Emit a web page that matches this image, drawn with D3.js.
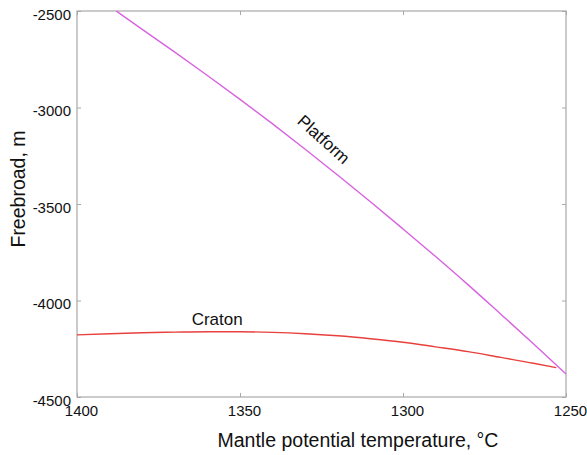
<!DOCTYPE html>
<html>
<head>
<meta charset="utf-8">
<script src="https://cdn.jsdelivr.net/npm/d3@7"></script>
<style>
  body { margin: 0; background: #fff; }
  svg { font-family: "Liberation Sans", Arial, Helvetica, sans-serif; }
</style>
</head>
<body>
<div id="chart"></div>
<script>
// Axis ticks
const tempTicks = [1400, 1350, 1300, 1250];
const freeboardTicks = [-2500, -3000, -3500, -4000, -4500];

// Platform curve
const platformTemp = [1388, 1380, 1370, 1360, 1350, 1340, 1330, 1320, 1310, 1300, 1290, 1280, 1270, 1260, 1250];
const platformFreeboard = [-2500, -2595, -2713, -2834, -2958, -3085, -3216, -3351, -3488, -3629, -3772, -3919, -4071, -4224, -4381];

// Craton curve
const cratonTemp = [1400, 1390, 1380, 1370, 1360, 1350, 1340, 1330, 1320, 1310, 1300, 1290, 1280, 1270, 1260, 1253];
const cratonFreeboard = [-4178, -4172, -4167, -4164, -4162, -4162, -4165, -4172, -4183, -4198, -4216, -4240, -4265, -4295, -4325, -4348];

const width = 587;
const height = 455;
const margin = {top: 11, right: 21, bottom: 58, left: 77};
const plotW = width - margin.left - margin.right;
const plotH = height - margin.top - margin.bottom;

const svg = d3.select('#chart')
    .append('svg')
    .attr('width', width)
    .attr('height', height);

const g = svg.append('g')
    .attr('transform', `translate(${margin.left},${margin.top})`);

// Scales - temperature runs high to low
const x = d3.scaleLinear().domain([1400, 1250]).range([0, plotW]);
const y = d3.scaleLinear().domain([-4500, -2500]).range([plotH, 0]);

const axisColor = '#a8a8a8';
const plainNum = d => String(d); // keep the ascii hyphen like the original

// Frame
g.append('rect')
    .attr('width', plotW)
    .attr('height', plotH)
    .attr('fill', 'none')
    .attr('stroke', axisColor)
    .attr('stroke-width', 1.2);

function styleAxis(sel, hideText) {
    sel.select('.domain').remove();
    sel.selectAll('.tick line').attr('stroke', axisColor);
    sel.selectAll('.tick text')
        .attr('fill', '#111')
        .style('font-size', '15px');
    if (hideText) sel.selectAll('.tick text').remove();
}

// Bottom axis
g.append('g')
    .attr('transform', `translate(0,${plotH})`)
    .call(d3.axisBottom(x).tickValues(tempTicks).tickFormat(plainNum).tickSizeInner(-4).tickSizeOuter(0).tickPadding(8))
    .call(s => styleAxis(s, false))
    .call(s => s.selectAll('.tick text').attr('dx', 4));

// Top axis (ticks only)
g.append('g')
    .call(d3.axisTop(x).tickValues(tempTicks).tickSizeInner(-4).tickSizeOuter(0))
    .call(s => styleAxis(s, true));

// Left axis
g.append('g')
    .call(d3.axisLeft(y).tickValues(freeboardTicks).tickFormat(plainNum).tickSizeInner(-4).tickSizeOuter(0).tickPadding(6))
    .call(s => styleAxis(s, false))
    .call(s => s.selectAll('.tick text').attr('dy', '0.55em'));

// Right axis (ticks only)
g.append('g')
    .attr('transform', `translate(${plotW},0)`)
    .call(d3.axisRight(y).tickValues(freeboardTicks).tickSizeInner(-4).tickSizeOuter(0))
    .call(s => styleAxis(s, true));

// Lines
const line = d3.line()
    .x(d => x(d[0]))
    .y(d => y(d[1]))
    .curve(d3.curveMonotoneX);

g.append('path')
    .datum(cratonTemp.map((t, i) => [t, cratonFreeboard[i]]))
    .attr('d', line)
    .attr('fill', 'none')
    .attr('stroke', '#e8403c')
    .attr('stroke-width', 1.4);

g.append('path')
    .datum(platformTemp.map((t, i) => [t, platformFreeboard[i]]))
    .attr('d', line)
    .attr('fill', 'none')
    .attr('stroke', '#d862e0')
    .attr('stroke-width', 1.4);

// Curve labels
g.append('text')
    .attr('transform', `translate(${x(1325.5)},${y(-3188)}) rotate(42)`)
    .attr('text-anchor', 'middle')
    .style('font-size', '17px')
    .attr('fill', '#111')
    .text('Platform');

g.append('text')
    .attr('x', x(1357))
    .attr('y', y(-4127))
    .attr('text-anchor', 'middle')
    .style('font-size', '17px')
    .attr('fill', '#111')
    .text('Craton');

// Axis titles
svg.append('text')
    .attr('x', 358)
    .attr('y', 447)
    .attr('text-anchor', 'middle')
    .style('font-size', '19.5px')
    .attr('fill', '#111')
    .text('Mantle potential temperature, °C');

svg.append('text')
    .attr('transform', `translate(25,189) rotate(-90)`)
    .attr('text-anchor', 'middle')
    .style('font-size', '19.5px')
    .attr('fill', '#111')
    .text('Freebroad, m');
</script>
</body>
</html>
